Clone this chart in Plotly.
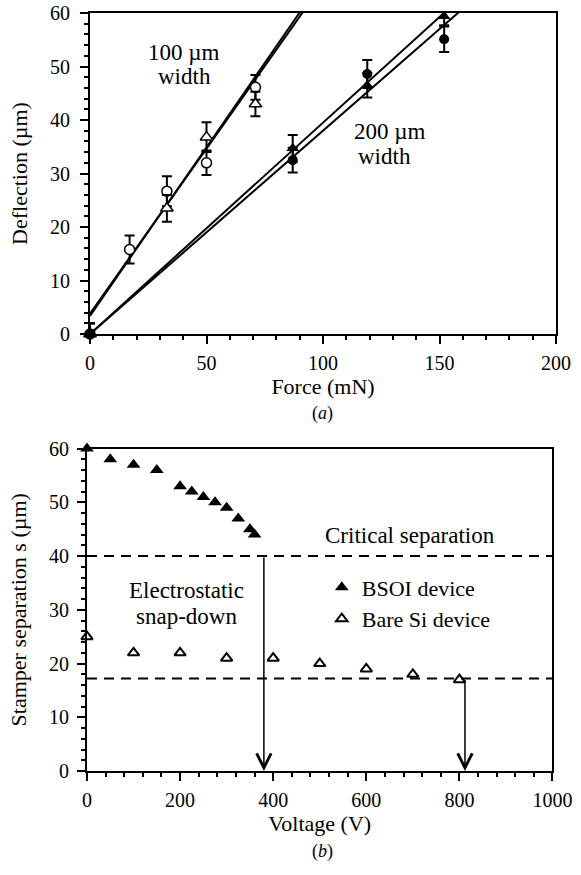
import numpy as np
import plotly.graph_objects as go

FONT = "Liberation Serif"

# ---------------- (a) Deflection vs force ----------------
force_100_circ = [0, 17, 33, 50, 71]
defl_100_circ = [0, 15.8, 26.7, 32.0, 46.1]
err_100_circ = [2.0, 2.6, 2.8, 2.3, 2.3]

force_100_tri = [0, 33, 50, 71]
defl_100_tri = [0, 23.5, 36.8, 43.0]
err_100_tri = [2.0, 2.5, 2.8, 2.3]

force_200_circ = [0, 87, 119, 152]
defl_200_circ = [0, 32.5, 48.6, 55.1]
err_200_circ = [2.0, 2.3, 2.6, 2.4]

force_200_tri = [0, 87, 119, 152]
defl_200_tri = [0, 34.7, 46.5, 59.4]
err_200_tri = [2.0, 2.5, 2.3, 1.7]

# linear fits (intercept, slope)
fit_intercepts = [3.8, 3.4, 0.0, 0.0]
fit_slopes = [0.617, 0.630, 0.395, 0.380]
force_range = [0, 200]

# ---------------- (b) Separation vs voltage ----------------
bsoi_voltage = [0, 50, 100, 150, 200, 225, 250, 275, 300, 325, 350, 360]
bsoi_sep = [60, 58, 57, 56, 53, 52, 51, 50, 49, 47, 45, 44]

bare_voltage = [0, 100, 200, 300, 400, 500, 600, 700, 800]
bare_sep = [25, 22, 22, 21, 21, 20, 19, 18, 17]

critical_sep = [40, 17.2]
snap_voltage = [380, 812]
voltage_range = [0, 1000]

fig = go.Figure()

# fit lines
for a, b in zip(fit_intercepts, fit_slopes):
    xs = np.array(force_range, dtype=float)
    fig.add_trace(go.Scatter(x=xs, y=a + b * xs, mode="lines",
                             line=dict(color="black", width=2),
                             showlegend=False, hoverinfo="skip",
                             xaxis="x", yaxis="y"))

def err(arr):
    return dict(type="data", array=arr, visible=True, color="black",
                thickness=2, width=5)

fig.add_trace(go.Scatter(x=force_100_circ, y=defl_100_circ, mode="markers",
                         error_y=err(err_100_circ),
                         marker=dict(symbol="circle", size=10, color="white",
                                     line=dict(color="black", width=1.5)),
                         showlegend=False, cliponaxis=False, xaxis="x", yaxis="y"))
fig.add_trace(go.Scatter(x=force_100_tri, y=defl_100_tri, mode="markers",
                         error_y=err(err_100_tri),
                         marker=dict(symbol="triangle-up", size=11, color="white",
                                     line=dict(color="black", width=1.5)),
                         showlegend=False, cliponaxis=False, xaxis="x", yaxis="y"))
fig.add_trace(go.Scatter(x=force_200_circ, y=defl_200_circ, mode="markers",
                         error_y=err(err_200_circ),
                         marker=dict(symbol="circle", size=10, color="black"),
                         showlegend=False, cliponaxis=False, xaxis="x", yaxis="y"))
fig.add_trace(go.Scatter(x=force_200_tri, y=defl_200_tri, mode="markers",
                         error_y=err(err_200_tri),
                         marker=dict(symbol="triangle-up", size=11, color="black"),
                         showlegend=False, cliponaxis=False, xaxis="x", yaxis="y"))

# critical separation dashed lines
for s in critical_sep:
    fig.add_trace(go.Scatter(x=voltage_range, y=[s, s], mode="lines",
                             line=dict(color="black", width=2, dash="10px,7px"),
                             showlegend=False, hoverinfo="skip",
                             xaxis="x2", yaxis="y2"))

fig.add_trace(go.Scatter(x=bsoi_voltage, y=bsoi_sep, mode="markers",
                         name="BSOI device",
                         marker=dict(symbol="triangle-up", size=12, color="black"),
                         cliponaxis=False, xaxis="x2", yaxis="y2"))
fig.add_trace(go.Scatter(x=bare_voltage, y=bare_sep, mode="markers",
                         name="Bare Si device",
                         marker=dict(symbol="triangle-up-open", size=10, color="black",
                                     line=dict(width=2)),
                         cliponaxis=False, xaxis="x2", yaxis="y2"))

TXT = 23
def label(x, y, text, xref="x", yref="y", size=TXT):
    return dict(x=x, y=y, xref=xref, yref=yref, text=text, showarrow=False,
                font=dict(family=FONT, size=size, color="black"))

annotations = [
    label(40.5, 52.7, "100 µm"),
    label(40.5, 48.2, "width"),
    label(128.8, 37.8, "200 µm"),
    label(126.2, 33.1, "width"),
    label(0.503, 0.4720, "(<i>a</i>)", "paper", "paper", 18),
    label(694, 43.9, "Critical separation", "x2", "y2"),
    label(212.7, 33.6, "Electrostatic", "x2", "y2"),
    label(212.7, 28.8, "snap-down", "x2", "y2"),
    label(0.502, -0.1227, "(<i>b</i>)", "paper", "paper", 18),
]
for v, s in zip(snap_voltage, critical_sep):
    annotations.append(dict(x=v, y=0, xref="x2", yref="y2", ax=v, ay=s,
                            axref="x2", ayref="y2", text="", showarrow=True,
                            arrowhead=5, arrowsize=1.9, arrowwidth=1.5,
                            arrowcolor="black", standoff=0, startstandoff=0))

tickfont = dict(family=FONT, size=20, color="black")
titlefont = dict(family=FONT, size=22, color="black")

def axis(domain, rng, dtick, minor_dtick, title, anchor, standoff, lblstand):
    return dict(domain=domain, range=rng, dtick=dtick, tick0=0,
                showgrid=False, zeroline=False, automargin=False,
                showline=True, linecolor="black", linewidth=2, mirror=True,
                ticks="outside", ticklen=8, tickwidth=2, tickcolor="black",
                ticklabelstandoff=lblstand,
                minor=dict(dtick=minor_dtick, ticks="outside", ticklen=4,
                           tickwidth=2, tickcolor="black", showgrid=False),
                tickfont=tickfont, anchor=anchor,
                title=dict(text=title, font=titlefont, standoff=standoff),
                fixedrange=True)

fig.update_layout(
    width=581, height=875,
    margin=dict(l=87, r=25, t=13, b=104, pad=0),
    paper_bgcolor="white", plot_bgcolor="white",
    font=dict(family=FONT, color="black"),
    xaxis=axis([0.0064, 1.0], [0, 200], 50, 10, "Force (mN)", "y", 5, 2),
    yaxis=axis([0.5765, 1.0], [0, 60], 10, 2, "Deflection (µm)", "x", 16, 6),
    xaxis2=axis([0.0, 0.9925], [0, 1000], 200, 40, "Voltage (V)", "y2", 6, 2),
    yaxis2=axis([0.0, 0.4254], [0, 60], 10, 2, "Stamper separation s (µm)", "x2", 16, 4),
    annotations=annotations,
    showlegend=True,
    legend=dict(x=0.5006, y=0.270, xanchor="left", yanchor="top",
                font=dict(family=FONT, size=22, color="black"),
                bgcolor="rgba(0,0,0,0)", borderwidth=0,
                traceorder="normal"),
)

fig.write_html("out.html", config={"displayModeBar": False},
               post_script="document.body.style.margin='0px';"
                           "document.body.style.overflow='hidden';")
